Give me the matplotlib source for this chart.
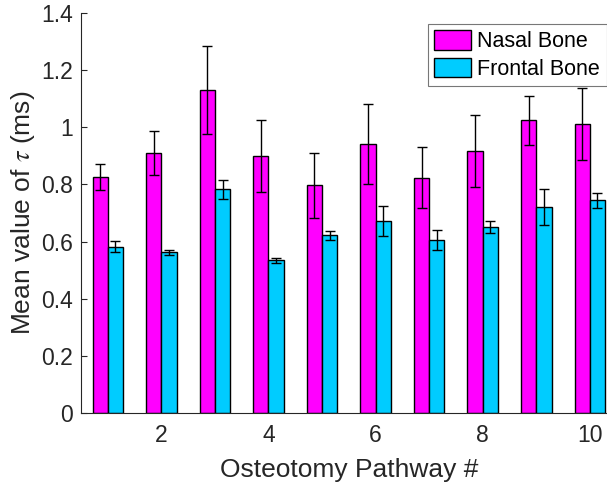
import matplotlib
matplotlib.use("Agg")
import matplotlib.pyplot as plt
from matplotlib.ticker import FuncFormatter
import numpy as np

pathways = [1, 2, 3, 4, 5, 6, 7, 8, 9, 10]
nasal = [0.827, 0.910, 1.131, 0.900, 0.797, 0.942, 0.824, 0.917, 1.024, 1.010]
nasal_err = [0.046, 0.077, 0.154, 0.126, 0.114, 0.141, 0.107, 0.127, 0.087, 0.126]
frontal = [0.582, 0.562, 0.783, 0.534, 0.622, 0.671, 0.604, 0.650, 0.721, 0.744]
frontal_err = [0.019, 0.010, 0.034, 0.010, 0.016, 0.052, 0.035, 0.021, 0.062, 0.027]
series_names = ["Nasal Bone", "Frontal Bone"]
xticks = [2, 4, 6, 8, 10]
yticks = [0, 0.2, 0.4, 0.6, 0.8, 1.0, 1.2, 1.4]

plt.rcParams['font.family'] = ['Liberation Sans', 'DejaVu Sans']
plt.rcParams['mathtext.fontset'] = 'stix'
txt = '#262626'

fig = plt.figure(figsize=(6.07, 4.86), dpi=100)
# axes extends slightly beyond the right edge of the figure (cropped like the reference)
ax = fig.add_axes([81/607, 1 - 413/486, 535.6/607, 400/486])

x = np.array(pathways, dtype=float)
w = 0.285
ekw = dict(ecolor='black', elinewidth=1.0, capsize=3.5, capthick=1.0)
ax.bar(x - w/2, nasal, w, color='#FF00FF', edgecolor='black', linewidth=1.0,
       label=series_names[0], zorder=2)
ax.bar(x + w/2, frontal, w, color='#00CCFF', edgecolor='black', linewidth=1.0,
       label=series_names[1], zorder=2)
ax.errorbar(x - w/2, nasal, yerr=nasal_err, fmt='none', zorder=3, **ekw)
ax.errorbar(x + w/2, frontal, yerr=frontal_err, fmt='none', zorder=3, **ekw)

ax.set_xlim(0.5, 10.5)
ax.set_ylim(0, 1.4)
ax.set_xticks(xticks)
ax.set_yticks(yticks)
ax.yaxis.set_major_formatter(FuncFormatter(lambda v, p: ('%g' % round(v, 2))))
ax.tick_params(direction='in', length=4, width=0.8, colors=txt, labelsize=16.5)
ax.tick_params(axis='y', pad=6)
ax.tick_params(axis='x', pad=8)
for s in ['top', 'right']:
    ax.spines[s].set_visible(False)
for s in ['left', 'bottom']:
    ax.spines[s].set_color(txt)
    ax.spines[s].set_linewidth(0.8)

ax.set_xlabel('Osteotomy Pathway #', fontsize=19, color=txt, labelpad=8)
ax.set_ylabel(r'Mean value of $\tau$ (ms)', fontsize=19, color=txt, labelpad=2.5)

leg = ax.legend(loc='upper right', bbox_to_anchor=(606.5/607, 1 - 24/486),
                bbox_transform=fig.transFigure, fontsize=15.5, frameon=True,
                fancybox=False, edgecolor='#555555', handlelength=1.7,
                handleheight=1.0, handletextpad=0.3, borderpad=0.3,
                labelspacing=0.25, borderaxespad=0)
leg.get_frame().set_linewidth(0.8)
for t in leg.get_texts():
    t.set_color('black')

fig.savefig('out.png', dpi=100)
